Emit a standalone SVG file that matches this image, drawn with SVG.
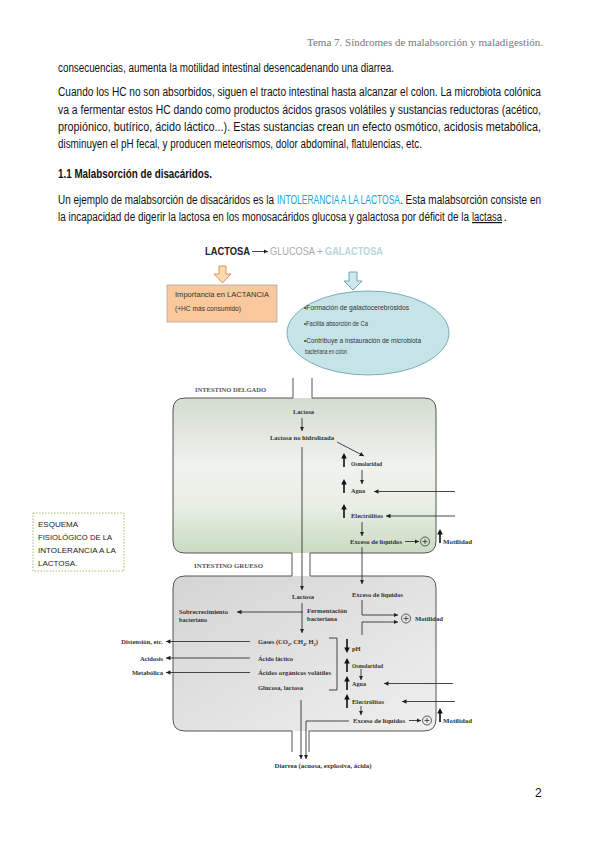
<svg xmlns="http://www.w3.org/2000/svg" xmlns:xlink="http://www.w3.org/1999/xlink" width="599" height="848" viewBox="0 0 599 848">
<defs>
<style>
.body{font-family:"Liberation Sans Narrow","Liberation Sans",Arial,sans-serif;font-size:12px;fill:#111}
.hdr{font-family:"Liberation Serif",serif;font-size:11px;fill:#777}
.lbl{font-family:"Liberation Serif",serif;font-size:6.5px;font-weight:bold;fill:#333}
.cap{font-family:"Liberation Serif",serif;font-size:6.3px;font-weight:bold;fill:#555}
.sm{font-family:"Liberation Sans",Arial,sans-serif;font-size:7px;fill:#333}
.side{font-family:"Liberation Sans",Arial,sans-serif;font-size:8px;fill:#222}
.ln{stroke:#333;stroke-width:0.9;fill:none}
.wall{stroke:#555;stroke-width:1;fill:none}
</style>
<marker id="ah" viewBox="0 0 6 6" refX="6" refY="3" markerWidth="4.5" markerHeight="4.5" orient="auto" markerUnits="userSpaceOnUse"><path d="M0,0 L6,3 L0,6 z" fill="#222"/></marker>
<path id="up" d="M-0.8,14 V5.5 H-2.8 L0,0 L2.8,5.5 H0.8 V14 Z" fill="#111"/>
<path id="dn" d="M-0.8,0 V8.5 H-2.8 L0,14 L2.8,8.5 H0.8 V0 Z" fill="#111"/>
<g id="plus"><circle r="4.5" fill="none" stroke="#333" stroke-width="0.8"/><path d="M-2.5,0 H2.5 M0,-2.5 V2.5" stroke="#333" stroke-width="0.8"/></g>
<linearGradient id="gSmall" x1="0" y1="0" x2="0" y2="1"><stop offset="0" stop-color="#d3dcd1"/><stop offset="0.45" stop-color="#f0f2ee"/><stop offset="0.7" stop-color="#e8eee4"/><stop offset="1" stop-color="#cadbc2"/></linearGradient>
<linearGradient id="gLarge" x1="0" y1="0" x2="1" y2="1"><stop offset="0" stop-color="#d4d4d4"/><stop offset="1" stop-color="#efefef"/></linearGradient>
</defs>
<rect width="599" height="848" fill="#fff"/>

<g id="page-text">
<text class="hdr" x="307" y="46" textLength="236" lengthAdjust="spacingAndGlyphs">Tema 7. Síndromes de malabsorción y maladigestión.</text>
<text class="body" x="58" y="72" textLength="336" lengthAdjust="spacingAndGlyphs">consecuencias, aumenta la motilidad intestinal desencadenando una diarrea.</text>
<text class="body" x="58" y="96" textLength="483" lengthAdjust="spacingAndGlyphs">Cuando los HC no son absorbidos, siguen el tracto intestinal hasta alcanzar el colon. La microbiota colónica</text>
<text class="body" x="58" y="114" textLength="483" lengthAdjust="spacingAndGlyphs">va a fermentar estos HC dando como productos ácidos grasos volátiles y sustancias reductoras (acético,</text>
<text class="body" x="58" y="131" textLength="483" lengthAdjust="spacingAndGlyphs">propiónico, butírico, ácido láctico...). Estas sustancias crean un efecto osmótico, acidosis metabólica,</text>
<text class="body" x="58" y="148" textLength="364" lengthAdjust="spacingAndGlyphs">disminuyen el pH fecal, y producen meteorismos, dolor abdominal, flatulencias, etc.</text>
<text class="body" x="58" y="178" font-weight="bold" textLength="154" lengthAdjust="spacingAndGlyphs">1.1 Malabsorción de disacáridos.</text>
<text class="body" x="58" y="204" textLength="216" lengthAdjust="spacingAndGlyphs">Un ejemplo de malabsorción de disacáridos es la</text>
<text class="body" x="277" y="204" font-size="9" style="fill:#1aa3e0" textLength="123" lengthAdjust="spacingAndGlyphs">INTOLERANCIA A LA LACTOSA</text>
<text class="body" x="400" y="204" textLength="141" lengthAdjust="spacingAndGlyphs">. Esta malabsorción consiste en</text>
<text class="body" x="58" y="221" textLength="411" lengthAdjust="spacingAndGlyphs">la incapacidad de digerir la lactosa en los monosacáridos glucosa y galactosa por déficit de la</text>
<text class="body" x="472" y="221" text-decoration="underline" textLength="30" lengthAdjust="spacingAndGlyphs">lactasa</text>
<text class="body" x="503.5" y="221">.</text>
<text class="body" x="535" y="797" font-size="11">2</text>
</g>

<g id="formula">
<text x="205" y="255" font-family="Liberation Sans,Arial,sans-serif" font-size="10" font-weight="bold" fill="#222" textLength="45" lengthAdjust="spacingAndGlyphs">LACTOSA</text>
<line x1="252" y1="251.5" x2="268" y2="251.5" class="ln" stroke-width="1.3" marker-end="url(#ah)"/>
<text x="270" y="255" font-family="Liberation Sans,Arial,sans-serif" font-size="10" fill="#aaa" textLength="45" lengthAdjust="spacingAndGlyphs">GLUCOSA</text>
<text x="317" y="255" font-family="Liberation Sans,Arial,sans-serif" font-size="10" fill="#aaa">+</text>
<text x="325" y="255" font-family="Liberation Sans,Arial,sans-serif" font-size="10" font-weight="bold" fill="#b9d5e0" textLength="58" lengthAdjust="spacingAndGlyphs">GALACTOSA</text>
</g>

<g id="lactancia">
<path d="M219,266 H226 V274 H231 L222.5,283 L214,274 H219 Z" fill="#fbd9b4" stroke="#d88a45" stroke-width="0.9"/>
<rect x="167" y="285" width="110" height="37" fill="#fac89c" stroke="#a8a8a8" stroke-width="0.8"/>
<text class="sm" x="175" y="297" textLength="94" lengthAdjust="spacingAndGlyphs">Importancia en LACTANCIA</text>
<text class="sm" x="175" y="311" textLength="66" lengthAdjust="spacingAndGlyphs">(+HC más consumido)</text>
</g>

<g id="galactosa-efectos">
<path d="M349,272 H357 V281 H362 L353,290 L344,281 H349 Z" fill="#cfe8ec" stroke="#5a9fb3" stroke-width="0.9"/>
<ellipse cx="368" cy="333" rx="81" ry="42" fill="#c6e4e7" stroke="#6fa5b5" stroke-width="0.9"/>
<text class="sm" x="304" y="310" font-size="6.8" textLength="105" lengthAdjust="spacingAndGlyphs">•Formación de galactocerebrósidos</text>
<text class="sm" x="304" y="326" font-size="6.8" textLength="64" lengthAdjust="spacingAndGlyphs">•Facilita absorción de Ca</text>
<text class="sm" x="304" y="343" font-size="6.8" textLength="117" lengthAdjust="spacingAndGlyphs">•Contribuye a instauración de microbiota</text>
<text class="sm" x="305" y="354" font-size="6.8" textLength="42" lengthAdjust="spacingAndGlyphs">bacteriana en colon</text>
</g>

<g id="esquema-label">
<rect x="33" y="513" width="91" height="58" fill="none" stroke="#9bbb59" stroke-width="0.9" stroke-dasharray="1.5,1.5"/>
<text class="side" x="38" y="527">ESQUEMA</text>
<text class="side" x="38" y="540" textLength="74" lengthAdjust="spacingAndGlyphs">FISIOLÓGICO DE LA</text>
<text class="side" x="38" y="553" textLength="78" lengthAdjust="spacingAndGlyphs">INTOLERANCIA A LA</text>
<text class="side" x="38" y="566">LACTOSA.</text>
</g>

<g id="intestino-delgado">
<rect x="173" y="398" width="263" height="155" rx="12" fill="url(#gSmall)"/>
<text class="cap" x="195" y="392" textLength="71" lengthAdjust="spacingAndGlyphs">INTESTINO DELGADO</text>
<text class="lbl" x="293" y="414" textLength="21" lengthAdjust="spacingAndGlyphs">Lactosa</text>
<text class="lbl" x="270" y="440" textLength="64" lengthAdjust="spacingAndGlyphs">Lactosa no hidrolizada</text>
<use href="#up" x="344" y="453"/>
<text class="lbl" x="351" y="465.5" textLength="31" lengthAdjust="spacingAndGlyphs">Osmolaridad</text>
<use href="#up" x="344" y="479"/>
<text class="lbl" x="351" y="493" textLength="14" lengthAdjust="spacingAndGlyphs">Agua</text>
<use href="#up" x="344" y="504"/>
<text class="lbl" x="351" y="518" textLength="32" lengthAdjust="spacingAndGlyphs">Electrólitos</text>
<text class="lbl" x="350" y="544" textLength="52" lengthAdjust="spacingAndGlyphs">Exceso de líquidos</text>
<use href="#plus" x="425" y="541.5"/>
<use href="#up" x="440" y="529"/>
<text class="lbl" x="443" y="544" textLength="29" lengthAdjust="spacingAndGlyphs">Motilidad</text>
</g>

<g id="intestino-grueso">
<rect x="173" y="576" width="263" height="155" rx="12" fill="url(#gLarge)"/>
<text class="cap" x="194" y="568" textLength="69" lengthAdjust="spacingAndGlyphs">INTESTINO GRUESO</text>
<text class="lbl" x="292" y="599" textLength="22" lengthAdjust="spacingAndGlyphs">Lactosa</text>
<text class="lbl" x="179" y="613.5" textLength="49" lengthAdjust="spacingAndGlyphs">Sobrecrecimiento</text>
<text class="lbl" x="179" y="621.5" textLength="28" lengthAdjust="spacingAndGlyphs">bacteriano</text>
<text class="lbl" x="307" y="612.5" textLength="40" lengthAdjust="spacingAndGlyphs">Fermentación</text>
<text class="lbl" x="307" y="620.5" textLength="30" lengthAdjust="spacingAndGlyphs">bacteriana</text>
<text class="lbl" x="352" y="597" textLength="51" lengthAdjust="spacingAndGlyphs">Exceso de líquidos</text>
<use href="#plus" x="406" y="618.5"/>
<text class="lbl" x="415" y="621" textLength="28" lengthAdjust="spacingAndGlyphs">Motilidad</text>
<text class="lbl" x="258" y="644">Gases (CO<tspan font-size="4.5" dy="1.5">2</tspan><tspan dy="-1.5">, CH</tspan><tspan font-size="4.5" dy="1.5">4</tspan><tspan dy="-1.5">, H</tspan><tspan font-size="4.5" dy="1.5">2</tspan><tspan dy="-1.5">)</tspan></text>
<text class="lbl" x="258" y="660.5" textLength="35" lengthAdjust="spacingAndGlyphs">Ácido láctico</text>
<text class="lbl" x="258" y="675" textLength="73" lengthAdjust="spacingAndGlyphs">Ácidos orgánicos volátiles</text>
<text class="lbl" x="258" y="690" textLength="45" lengthAdjust="spacingAndGlyphs">Glucosa, lactosa</text>
<path class="ln" d="M329,638 H337 V690 H329"/>
<use href="#dn" x="347" y="639"/>
<text class="lbl" x="352" y="651">pH</text>
<use href="#up" x="347" y="658"/>
<text class="lbl" x="352" y="668" textLength="31" lengthAdjust="spacingAndGlyphs">Osmolaridad</text>
<use href="#up" x="347" y="676"/>
<text class="lbl" x="352" y="686" textLength="14" lengthAdjust="spacingAndGlyphs">Agua</text>
<use href="#up" x="347" y="694"/>
<text class="lbl" x="352" y="704" textLength="32" lengthAdjust="spacingAndGlyphs">Electrólitos</text>
<text class="lbl" x="353" y="723" textLength="52" lengthAdjust="spacingAndGlyphs">Exceso de líquidos</text>
<use href="#plus" x="427" y="720.5"/>
<use href="#up" x="440" y="708"/>
<text class="lbl" x="443" y="723" textLength="29" lengthAdjust="spacingAndGlyphs">Motilidad</text>
</g>

<g id="efectos-sistemicos">
<text class="lbl" x="163" y="644" text-anchor="end">Distensión, etc.</text>
<text class="lbl" x="163" y="660.5" text-anchor="end">Acidosis</text>
<text class="lbl" x="163" y="675" text-anchor="end">Metabólica</text>
</g>

<g id="diarrea">
<text class="lbl" x="323" y="768" text-anchor="middle" textLength="97" lengthAdjust="spacingAndGlyphs">Diarrea (acuosa, explosiva, ácida)</text>
</g>

<g id="walls">
<path class="wall" d="M293,378 V398 H185 Q173,398 173,410 V541 Q173,553 185,553 H292 V576 H185 Q173,576 173,588 V719 Q173,731 185,731 H292 V752"/>
<path class="wall" d="M312,378 V398 H424 Q436,398 436,410 V541 Q436,553 424,553 H310 V576 H424 Q436,576 436,588 V719 Q436,731 424,731 H309 V752"/>
</g>

<g id="connectors">
<line class="ln" x1="302" y1="418" x2="302" y2="431" marker-end="url(#ah)"/>
<line class="ln" x1="337" y1="442" x2="364" y2="456" marker-end="url(#ah)"/>
<line class="ln" x1="302" y1="447" x2="302" y2="590" marker-end="url(#ah)"/>
<line class="ln" x1="362" y1="470" x2="362" y2="484" marker-end="url(#ah)"/>
<line class="ln" x1="455" y1="491.5" x2="374" y2="491.5" marker-end="url(#ah)"/>
<line class="ln" x1="455" y1="516" x2="386" y2="516" marker-end="url(#ah)"/>
<line class="ln" x1="362" y1="522" x2="362" y2="536" marker-end="url(#ah)"/>
<line class="ln" x1="405" y1="541.5" x2="419" y2="541.5" marker-end="url(#ah)"/>
<line class="ln" x1="362" y1="547" x2="362" y2="584" marker-end="url(#ah)"/>
<line class="ln" x1="303" y1="612" x2="237" y2="612" marker-end="url(#ah)"/>
<line class="ln" x1="302" y1="603" x2="302" y2="633" marker-end="url(#ah)"/>
<path class="ln" d="M362,600 V615 H398" marker-end="url(#ah)"/>
<path class="ln" d="M362,635 V622 H398" marker-end="url(#ah)"/>
<line class="ln" x1="250" y1="641.5" x2="166" y2="641.5" marker-end="url(#ah)"/>
<line class="ln" x1="250" y1="658" x2="166" y2="658" marker-end="url(#ah)"/>
<line class="ln" x1="250" y1="672.5" x2="166" y2="672.5" marker-end="url(#ah)"/>
<line class="ln" x1="361" y1="669" x2="361" y2="680" marker-end="url(#ah)"/>
<line class="ln" x1="453" y1="683.5" x2="384" y2="683.5" marker-end="url(#ah)"/>
<line class="ln" x1="455" y1="701.5" x2="402" y2="701.5" marker-end="url(#ah)"/>
<line class="ln" x1="361" y1="706" x2="361" y2="715" marker-end="url(#ah)"/>
<line class="ln" x1="409" y1="720.5" x2="421" y2="720.5" marker-end="url(#ah)"/>
<line class="ln" x1="301" y1="700" x2="301" y2="759" marker-end="url(#ah)"/>
<path class="ln" d="M349,721 H306 V759" marker-end="url(#ah)"/>
</g>
</svg>
